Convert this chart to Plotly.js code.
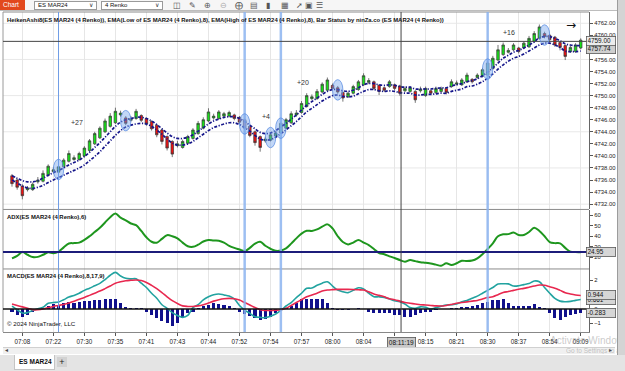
<!DOCTYPE html>
<html><head><meta charset="utf-8">
<script src="https://cdn.plot.ly/plotly-3.0.1.min.js"></script>
<style>
html,body{margin:0;padding:0;width:625px;height:371px;overflow:hidden;background:#fff;font-family:Arial,"Liberation Sans",sans-serif;}
#wrap{position:relative;width:625px;height:371px;overflow:hidden;}
#chart{position:absolute;left:0;top:0;width:625px;height:371px;}
.abs{position:absolute;box-sizing:border-box;white-space:nowrap;}
.dd{background:#fff;border:1px solid #9a9a9a;font-size:6px;line-height:7px;padding-left:3px;color:#111;}
.dd span{position:absolute;right:3px;top:0;font-size:6px;color:#333;}
.ic{font-size:7.5px;color:#555;top:1px;line-height:9px;}
</style></head><body>
<div id="wrap">
<div id="chart"></div>
<!-- toolbar -->
<div class="abs" style="left:0;top:0;width:625px;height:11px;background:#f6f6f6;border-bottom:1px solid #bdbdbd;"></div>
<div class="abs" style="left:0;top:0;width:25px;height:10px;background:#e2481c;color:#fff;font-size:6.5px;line-height:10px;padding-left:3px;">Chart</div>
<div class="abs dd" style="left:34px;top:1px;width:63px;height:9px;">ES MAR24<span>&#8744;</span></div>
<div class="abs dd" style="left:101px;top:1px;width:62px;height:9px;">4 Renko<span>&#8744;</span></div>
<div class="abs ic" style="left:173px;">&#9707;</div>
<div class="abs ic" style="left:189px;">&#9998;</div>
<div class="abs ic" style="left:204px;">&#8853;</div>
<div class="abs ic" style="left:220px;color:#aaa;">&#8854;</div>
<div class="abs ic" style="left:235px;">&#10753;</div>
<div class="abs ic" style="left:250px;">&#9636;</div>
<div class="abs ic" style="left:266px;">&#9646;</div>
<div class="abs ic" style="left:281px;">&#9638;</div>
<div class="abs ic" style="left:296px;">&#10138;</div>
<div class="abs ic" style="left:305px;">&#9635;</div>
<div class="abs ic" style="left:316px;">&#9776;</div>
<!-- right strip -->
<div class="abs" style="left:617px;top:0;width:8px;height:371px;background:#d4d4d4;border-left:1px solid #9c9c9c;"></div>
<!-- scrollbar -->
<div class="abs" style="left:3px;top:347px;width:612px;height:7px;background:#f0f0f0;border-top:1px solid #d0d0d0;"></div>
<div class="abs" style="left:5px;top:347px;font-size:6px;color:#444;line-height:7px;">&#9666;</div>
<div class="abs" style="left:609px;top:347px;font-size:6px;color:#444;line-height:7px;">&#9656;</div>
<!-- tab bar -->
<div class="abs" style="left:0;top:355px;width:625px;height:16px;background:#e4e4e4;"></div>
<div class="abs" style="left:14px;top:355px;width:41px;height:15px;background:#fff;border:1px solid #c4c4c4;border-top:none;font-size:6.5px;font-weight:bold;line-height:13px;padding-left:4px;color:#111;">ES MAR24</div>
<div class="abs" style="left:57px;top:357px;width:10px;height:10px;background:#d2d2d2;font-size:9px;line-height:10px;text-align:center;color:#222;">+</div>
<!-- watermark -->
<div class="abs" style="left:550px;top:335px;width:67px;overflow:hidden;font-size:10px;color:rgba(150,150,150,0.5);">Activate Windows</div>
<div class="abs" style="left:566px;top:347px;width:51px;overflow:hidden;font-size:6.5px;color:rgba(150,150,150,0.55);">Go to Settings to activate Windows.</div>
</div>
<script>
// ---------- DATA ----------
const timeTickBars   = [2,8,14,20,26,32,38,44,50,56,62,68,74,80,86,92,98,104,110];
const timeTickLabels = ['07:08','07:22','07:30','07:35','07:41','07:43','07:44','07:52','07:54','07:57','08:00','08:04','','08:15','08:21','08:30','08:37','08:54','09:09'];

const haOpen = [4736.7,4736.0,4735.0,4734.4,4734.4,4735.7,4735.8,4736.8,4737.4,4737.3,
4738.2,4739.1,4739.4,4739.4,4740.0,4740.9,4742.0,4743.0,4744.0,4744.9,
4745.5,4746.8,4746.3,4745.9,4746.2,4746.7,4746.2,4745.7,4745.1,4744.3,
4743.2,4742.4,4741.7,4741.4,4742.1,4742.9,4743.7,4744.6,4745.8,4746.3,
4746.2,4746.6,4746.6,4746.8,4746.4,4746.0,4744.9,4744.0,4743.2,4742.5,
4742.6,4743.3,4743.8,4744.6,4745.5,4746.8,4747.2,4748.2,4749.5,4749.5,
4750.6,4750.9,4751.7,4751.3,4750.5,4749.8,4750.4,4751.0,4751.8,4752.2,
4752.3,4751.7,4751.3,4751.5,4751.8,4751.6,4750.8,4750.7,4750.7,4750.8,
4750.0,4750.8,4750.5,4750.7,4751.2,4751.5,4751.9,4751.8,4752.3,4752.7,
4753.0,4753.2,4753.4,4754.5,4755.9,4756.8,4757.2,4757.6,4757.9,4757.9,
4758.1,4759.0,4759.5,4760.3,4760.0,4759.7,4758.8,4758.3,4757.3,4757.3,
4757.9];
const haHigh = [4737.0,4736.3,4735.3,4735.0,4735.6,4736.5,4737.6,4738.6,4738.1,4738.5,
4739.6,4740.9,4740.1,4740.7,4741.6,4742.8,4744.0,4744.9,4746.2,4747.1,
4748.0,4747.5,4746.6,4746.6,4747.8,4746.9,4746.4,4745.9,4745.3,4744.5,
4743.4,4742.6,4742.5,4742.7,4743.5,4744.6,4745.8,4746.4,4747.9,4747.0,
4747.6,4747.3,4747.5,4747.0,4746.6,4746.2,4745.1,4744.2,4743.4,4743.2,
4743.8,4744.1,4745.7,4746.3,4747.4,4747.6,4749.1,4750.4,4750.2,4751.1,
4752.2,4753.0,4752.0,4751.6,4750.7,4750.7,4751.8,4752.6,4753.7,4752.9,
4752.5,4751.9,4751.5,4752.6,4752.0,4751.8,4751.5,4751.6,4750.9,4751.5,
4751.5,4751.0,4751.5,4751.5,4751.4,4752.7,4752.5,4752.9,4753.8,4752.9,
4753.7,4754.6,4755.8,4756.6,4758.4,4758.8,4757.9,4758.7,4758.1,4759.0,
4759.9,4760.7,4761.8,4760.6,4760.2,4759.9,4759.0,4758.5,4758.3,4758.7,
4759.5];
const haLow = [4734.9,4734.4,4732.8,4734.1,4734.2,4735.4,4735.6,4736.6,4737.1,4737.1,
4738.0,4738.9,4739.2,4739.2,4739.8,4740.7,4741.8,4742.8,4743.8,4744.7,
4745.3,4746.5,4745.1,4745.7,4746.0,4745.6,4745.0,4744.2,4743.1,4741.9,
4740.9,4739.8,4741.4,4741.2,4741.9,4742.7,4743.5,4744.4,4745.6,4746.0,
4746.0,4746.4,4746.4,4745.9,4745.3,4744.3,4743.1,4741.7,4740.7,4742.2,
4742.4,4743.1,4743.6,4744.4,4745.3,4746.5,4747.0,4748.0,4749.2,4749.3,
4750.4,4750.7,4750.9,4750.3,4749.0,4749.6,4750.2,4750.8,4751.6,4751.9,
4750.9,4750.1,4750.6,4751.3,4750.9,4750.0,4750.6,4750.5,4748.8,4750.5,
4749.8,4750.1,4750.3,4750.5,4750.2,4751.3,4751.7,4751.6,4752.1,4752.0,
4752.8,4753.0,4753.2,4754.3,4755.7,4756.6,4757.0,4757.4,4757.0,4757.7,
4757.9,4758.8,4759.3,4759.5,4759.0,4758.1,4757.5,4755.9,4757.1,4757.1,
4757.7];
const haClose = [4735.4,4734.8,4733.4,4734.7,4735.3,4736.0,4737.1,4738.3,4737.7,4738.2,
4739.3,4740.4,4739.7,4740.4,4741.3,4742.5,4743.7,4744.6,4745.8,4746.6,
4747.4,4747.1,4745.4,4746.2,4747.4,4745.9,4745.3,4744.5,4743.5,4742.4,
4741.3,4740.3,4742.0,4742.4,4743.2,4744.3,4745.4,4746.0,4747.3,4746.6,
4747.3,4747.0,4747.2,4746.2,4745.6,4744.6,4743.4,4742.2,4741.4,4742.8,
4743.5,4743.8,4745.4,4746.0,4747.0,4747.1,4748.7,4750.0,4749.8,4750.7,
4751.9,4752.6,4751.2,4750.6,4749.6,4750.4,4751.5,4752.3,4753.3,4752.5,
4751.2,4750.7,4750.9,4752.3,4751.2,4750.4,4751.2,4751.3,4749.3,4751.1,
4751.2,4750.4,4751.2,4751.2,4750.5,4752.3,4752.1,4752.6,4753.4,4752.3,
4753.4,4754.3,4755.4,4756.2,4757.6,4758.4,4757.5,4758.4,4757.3,4758.7,
4759.5,4760.3,4761.4,4759.8,4759.3,4758.4,4758.0,4756.5,4758.0,4758.4,
4759.2];
const emaHigh = [4736.7,4736.3,4735.9,4735.7,4735.7,4735.9,4736.3,4736.8,4737.2,4737.6,
4738.0,4738.5,4738.9,4739.3,4739.9,4740.6,4741.4,4742.2,4743.1,4744.0,
4744.9,4745.6,4746.0,4746.2,4746.4,4746.4,4746.2,4745.8,4745.2,4744.5,
4743.8,4743.2,4742.9,4742.9,4743.1,4743.5,4744.1,4744.7,4745.3,4745.8,
4746.1,4746.4,4746.5,4746.5,4746.2,4745.7,4745.1,4744.5,4743.9,4743.7,
4743.8,4744.2,4744.8,4745.4,4746.1,4746.8,4747.6,4748.4,4749.0,4749.6,
4750.2,4750.7,4751.0,4751.0,4750.8,4750.7,4750.9,4751.3,4751.8,4752.0,
4752.0,4751.8,4751.7,4751.8,4751.7,4751.5,4751.4,4751.4,4751.1,4751.1,
4751.1,4751.1,4751.2,4751.3,4751.3,4751.6,4751.8,4752.0,4752.3,4752.5,
4752.8,4753.3,4753.9,4754.6,4755.4,4756.2,4756.7,4757.2,4757.5,4757.9,
4758.4,4758.9,4759.6,4759.8,4759.8,4759.5,4759.1,4758.6,4758.4,4758.3,
4758.3];
const emaLow = [4736.0,4735.5,4735.0,4734.7,4734.6,4734.8,4735.1,4735.6,4736.0,4736.4,
4736.8,4737.2,4737.6,4738.0,4738.5,4739.2,4739.9,4740.7,4741.6,4742.5,
4743.4,4744.2,4744.8,4745.1,4745.3,4745.4,4745.3,4744.9,4744.3,4743.6,
4742.8,4742.1,4741.8,4741.8,4742.0,4742.4,4743.0,4743.6,4744.2,4744.7,
4745.0,4745.3,4745.5,4745.5,4745.2,4744.7,4744.1,4743.4,4742.8,4742.6,
4742.7,4743.1,4743.7,4744.3,4745.0,4745.7,4746.5,4747.3,4747.9,4748.5,
4749.1,4749.6,4750.0,4750.1,4749.9,4749.8,4749.9,4750.3,4750.7,4751.0,
4751.0,4750.8,4750.7,4750.8,4750.7,4750.5,4750.4,4750.4,4750.1,4750.1,
4750.2,4750.2,4750.3,4750.4,4750.4,4750.7,4750.9,4751.1,4751.5,4751.6,
4751.9,4752.3,4752.9,4753.6,4754.4,4755.1,4755.7,4756.2,4756.5,4756.9,
4757.4,4757.9,4758.4,4758.7,4758.7,4758.4,4758.0,4757.4,4757.3,4757.3,
4757.4];
const statusBars = [9,22,45,50,52,63,92,103];     // circled bars
const statusLineBars = [9,45,52,92];               // vertical marker lines
const priceGrid = [4732,4738,4744,4750,4756,4762];

const adx = [19.1,21.5,25.0,22.5,20.3,20.5,22.5,24.8,24.0,25.5,
29.5,33.2,33.5,34.0,36.5,40.0,44.0,48.0,53.0,58.0,
61.5,57.5,55.0,52.0,50.5,45.0,39.0,34.8,33.9,37.5,
41.0,40.0,38.0,34.0,30.5,30.0,32.0,35.0,36.4,36.0,
35.8,34.0,31.0,29.0,27.5,26.0,29.0,33.0,34.8,31.0,
28.2,26.3,26.5,28.5,33.0,38.0,42.5,45.2,45.0,46.5,
49.0,51.2,47.4,40.0,34.5,32.3,34.0,36.4,34.0,31.7,
28.0,24.0,23.0,21.0,19.5,17.5,16.0,17.5,16.5,15.5,
15.0,14.2,13.2,12.2,14.4,12.8,14.5,16.9,16.5,17.0,
19.1,23.0,28.0,33.3,40.0,41.8,42.0,43.6,41.1,41.2,
44.0,48.0,45.0,40.0,34.5,33.5,33.3,29.0,25.5,25.0,
24.95];
const adxLevel = 25;

const macd = [0.20,-0.05,-0.28,-0.25,-0.10,0.02,0.12,0.40,0.45,0.49,
0.65,0.83,0.95,1.10,1.30,1.45,1.62,1.79,2.05,2.35,
2.55,2.30,2.14,2.10,2.10,1.80,1.50,1.10,0.75,0.30,
0.05,-0.25,-0.45,-0.58,-0.45,0.10,0.30,0.63,0.85,1.00,
1.05,0.98,0.90,0.70,0.25,-0.07,-0.30,-0.53,-0.58,-0.60,
-0.50,-0.35,-0.10,0.21,0.45,0.80,1.10,1.44,1.46,1.65,
1.80,1.90,1.60,1.32,1.20,1.14,1.30,1.48,1.40,1.10,
0.86,0.85,0.81,0.70,0.58,0.51,0.35,0.10,0.05,0.15,
0.12,0.00,0.10,0.20,0.28,0.30,0.35,0.50,0.60,0.75,
0.90,1.10,1.30,1.50,1.74,1.76,1.75,1.60,1.62,1.70,
1.77,1.95,1.90,1.50,1.10,0.74,0.55,0.51,0.53,0.60,
0.661];
const macdAvg = [0.35,0.25,0.15,0.05,-0.05,-0.05,0.00,0.10,0.18,0.25,
0.32,0.42,0.55,0.68,0.80,0.95,1.10,1.25,1.42,1.60,
1.80,1.90,1.97,2.00,2.02,1.98,1.85,1.65,1.42,1.15,
0.85,0.58,0.38,0.22,0.18,0.18,0.22,0.30,0.42,0.55,
0.65,0.72,0.74,0.72,0.62,0.45,0.28,0.10,-0.05,-0.10,
-0.10,-0.08,-0.05,0.05,0.25,0.45,0.65,0.85,0.98,1.10,
1.25,1.32,1.35,1.37,1.37,1.37,1.36,1.34,1.32,1.20,
1.05,0.95,0.85,0.72,0.65,0.55,0.45,0.40,0.35,0.30,
0.28,0.25,0.22,0.21,0.25,0.32,0.40,0.45,0.50,0.55,
0.60,0.70,0.80,0.86,1.00,1.15,1.22,1.30,1.38,1.44,
1.52,1.60,1.67,1.65,1.55,1.45,1.30,1.14,1.05,0.98,
0.944];
const macdDiff = [-0.19,-0.42,-0.58,-0.42,-0.19,-0.07,0.05,0.21,0.33,0.25,
0.40,0.51,0.44,0.51,0.56,0.56,0.63,0.63,0.68,0.70,
0.70,0.40,0.12,0.05,0.05,0.05,-0.19,-0.42,-0.65,-0.84,
-1.00,-1.18,-1.00,-0.65,-0.28,-0.19,0.10,0.21,0.30,0.40,
0.35,0.30,0.21,0.05,-0.19,-0.35,-0.50,-0.65,-0.77,-0.72,
-0.53,-0.30,-0.05,0.05,0.21,0.45,0.70,0.70,0.68,0.70,
0.70,0.40,0.10,-0.08,-0.10,-0.08,0.00,0.10,0.00,-0.20,
-0.28,-0.28,-0.28,-0.30,-0.40,-0.45,-0.53,-0.53,-0.40,-0.25,
-0.19,-0.19,-0.10,0.00,0.02,0.05,0.10,0.16,0.16,0.20,
0.30,0.40,0.50,0.60,0.60,0.68,0.40,0.21,0.21,0.21,
0.21,0.35,0.15,0.05,-0.28,-0.63,-0.74,-0.58,-0.42,-0.35,
-0.283];

const lastPrice = 4757.74;
const crossBar = 75.25, crossPrice = 4759.00, crossTime = '08:11:19';

// ---------- BUILD ----------
const bars = haOpen.map((_, i) => i);
const FONT = 'Arial, "Liberation Sans", sans-serif';
const bandDash = '3px,1.6px,1.2px,1.6px';

const traces = [
  {type:'candlestick', x:bars, open:haOpen, high:haHigh, low:haLow, close:haClose,
   xaxis:'x', yaxis:'y', whiskerwidth:0, hoverinfo:'skip',
   increasing:{fillcolor:'#18e018', line:{color:'#3a3a3a', width:0.7}},
   decreasing:{fillcolor:'#ee1111', line:{color:'#3a3a3a', width:0.7}}},
  {type:'scatter', mode:'lines', x:bars, y:emaHigh, xaxis:'x', yaxis:'y',
   line:{color:'#15158a', width:1.7, dash:bandDash, shape:'spline'}, hoverinfo:'skip'},
  {type:'scatter', mode:'lines', x:bars, y:emaLow, xaxis:'x', yaxis:'y',
   line:{color:'#15158a', width:1.7, dash:bandDash, shape:'spline'}, hoverinfo:'skip'},
  {type:'scatter', mode:'lines', x:bars, y:adx, xaxis:'x', yaxis:'y2',
   line:{color:'#1e961e', width:2, shape:'spline'}, hoverinfo:'skip'},
  {type:'bar', x:bars, y:macdDiff, xaxis:'x', yaxis:'y3', width:0.6,
   marker:{color:'#10108c'}, hoverinfo:'skip'},
  {type:'scatter', mode:'lines', x:bars, y:macd, xaxis:'x', yaxis:'y3',
   line:{color:'#22a3a0', width:1.6, shape:'spline'}, hoverinfo:'skip'},
  {type:'scatter', mode:'lines', x:bars, y:macdAvg, xaxis:'x', yaxis:'y3',
   line:{color:'#e8284f', width:1.6, shape:'spline'}, hoverinfo:'skip'}
];

const shapes = [];
priceGrid.forEach(v => shapes.push({type:'line', layer:'below', xref:'paper', x0:0, x1:1, yref:'y', y0:v, y1:v,
  line:{color:'#e8e8e8', width:1}}));
[['y domain',1],['y domain',0],['y2 domain',0]].forEach(([r,v]) => shapes.push({type:'line', xref:'paper', x0:0, x1:1,
  yref:r, y0:v, y1:v, line:{color:'#8c8c8c', width:1}}));
shapes.push({type:'line', xref:'paper', x0:0, x1:0, yref:'paper', y0:0, y1:1, line:{color:'#9a9a9a', width:1}});
statusLineBars.forEach((b, k) => shapes.push({type:'line', xref:'x', x0:b, x1:b, yref:'paper', y0:0, y1:1,
  line:{color: k === 0 ? '#6f9de6' : 'rgba(140,180,240,0.85)', width: k === 0 ? 1 : 2.5}}));
shapes.push({type:'line', xref:'paper', x0:0, x1:1, yref:'y2', y0:adxLevel, y1:adxLevel, line:{color:'#1c1c7a', width:2}});
shapes.push({type:'line', xref:'paper', x0:0, x1:1, yref:'y3', y0:0, y1:0, line:{color:'#111', width:1.5}});
shapes.push({type:'line', xref:'x', x0:crossBar, x1:crossBar, yref:'paper', y0:0, y1:1, line:{color:'#444', width:1}});
shapes.push({type:'line', xref:'paper', x0:0, x1:1, yref:'y', y0:crossPrice, y1:crossPrice, line:{color:'#444', width:1}});
statusBars.forEach(b => {
  const mid = (haOpen[b] + haClose[b]) / 2;
  shapes.push({type:'circle', xref:'x', yref:'y', x0:b-1.0, x1:b+1.0, y0:mid-1.7, y1:mid+1.7,
    fillcolor:'rgba(110,160,235,0.42)', line:{color:'rgba(90,140,225,0.75)', width:1}});
});

const boxFont = {family:FONT, size:6.4, color:'#111'};
function marker(yref, y, text, bg) {
  return {xref:'paper', yref:yref, x:1, y:y, xanchor:'left', xshift:-3, text:text, showarrow:false,
    width:27, align:'left', bgcolor:bg, bordercolor:'#5a5a5a', borderwidth:0.8, borderpad:0.6, font:boxFont};
}
const annotations = [
  {xref:'paper', yref:'y domain', x:0, y:1, xanchor:'left', yanchor:'top', xshift:2, yshift:-3, showarrow:false,
   text:'<b>HeikenAshi8(ES MAR24 (4 Renko)), EMA(Low of ES MAR24 (4 Renko),8), EMA(High of ES MAR24 (4 Renko),8), Bar Status by ninZa.co (ES MAR24 (4 Renko))</b>',
   font:{family:FONT, size:5.9, color:'#111'}},
  {xref:'paper', yref:'y2 domain', x:0, y:1, xanchor:'left', yanchor:'top', xshift:2, yshift:-2, showarrow:false,
   text:'<b>ADX(ES MAR24 (4 Renko),6)</b>', font:{family:FONT, size:5.9, color:'#111'}},
  {xref:'paper', yref:'y3 domain', x:0, y:1, xanchor:'left', yanchor:'top', xshift:2, yshift:-2, showarrow:false,
   text:'<b>MACD(ES MAR24 (4 Renko),8,17,9)</b>', font:{family:FONT, size:5.9, color:'#111'}},
  {xref:'paper', yref:'y3 domain', x:0, y:0, xanchor:'left', yanchor:'bottom', xshift:2, yshift:3, showarrow:false,
   text:'© 2024 NinjaTrader, LLC', font:{family:FONT, size:6.2, color:'#111'}},
  {xref:'x', yref:'y', x:12.6, y:4745.6, text:'+27', showarrow:false, font:{family:FONT, size:7, color:'#333'}},
  {xref:'x', yref:'y', x:49.1, y:4746.6, text:'+4', showarrow:false, font:{family:FONT, size:7, color:'#333'}},
  {xref:'x', yref:'y', x:56.3, y:4752.1, text:'+20', showarrow:false, font:{family:FONT, size:7, color:'#333'}},
  {xref:'x', yref:'y', x:96.1, y:4760.4, text:'+16', showarrow:false, font:{family:FONT, size:7, color:'#333'}},
  {xref:'paper', yref:'y domain', x:0.982, y:1, yanchor:'top', yshift:-4, text:'→', showarrow:false, font:{family:'DejaVu Sans', size:12, color:'#111'}},
  marker('y', lastPrice, lastPrice.toFixed(2), '#cfcfcf'),
  marker('y', crossPrice, crossPrice.toFixed(2), '#ececec'),
  marker('y2', adx[adx.length-1], adx[adx.length-1].toFixed(2), '#d6d6d6'),
  marker('y3', macd[macd.length-1], macd[macd.length-1].toFixed(3), '#d6d6d6'),
  marker('y3', macdAvg[macdAvg.length-1], macdAvg[macdAvg.length-1].toFixed(3), '#d6d6d6'),
  marker('y3', macdDiff[macdDiff.length-1], macdDiff[macdDiff.length-1].toFixed(3), '#d6d6d6'),
  {xref:'x', yref:'paper', x:crossBar, y:0, yanchor:'top', yshift:-5, text:crossTime, showarrow:false,
   bgcolor:'#c8c8c8', bordercolor:'#555', borderwidth:0.8, borderpad:1, font:{family:FONT, size:6.5, color:'#111'}}
];

const yBase = {side:'right', anchor:'x', showgrid:false, zeroline:false, showline:true, linecolor:'#666', linewidth:1,
  ticks:'outside', ticklen:3, tickcolor:'#555', tickfont:{family:FONT, size:5.9, color:'#222'}, fixedrange:true};

const layout = {
  width:625, height:371, margin:{l:3, r:36, t:12, b:39, pad:0},
  paper_bgcolor:'#ffffff', plot_bgcolor:'#ffffff', showlegend:false, bargap:0,
  font:{family:FONT, size:6, color:'#222'},
  xaxis:{domain:[0,1], range:[-1.74,111.6], anchor:'y3', tickmode:'array', tickvals:timeTickBars, ticktext:timeTickLabels,
    ticks:'outside', ticklen:3, tickcolor:'#555', tickfont:{family:FONT, size:6.3, color:'#222'},
    showgrid:true, gridcolor:'#e6e6e6', gridwidth:1, showline:true, linecolor:'#888', zeroline:false,
    rangeslider:{visible:false}, fixedrange:true},
  yaxis:Object.assign({}, yBase, {domain:[0.383,1], range:[4731.12,4763.87], tick0:4732, dtick:2, tickformat:'.2f'}),
  yaxis2:Object.assign({}, yBase, {domain:[0.197,0.381], range:[9.1,64.7], tickvals:[20,30,40,50,60]}),
  yaxis3:Object.assign({}, yBase, {domain:[0,0.197], range:[-1.6,2.79], tickvals:[-1,0,1,2]}),
  shapes:shapes, annotations:annotations
};

Plotly.newPlot('chart', traces, layout, {displayModeBar:false, staticPlot:true});
</script>
</body></html>
